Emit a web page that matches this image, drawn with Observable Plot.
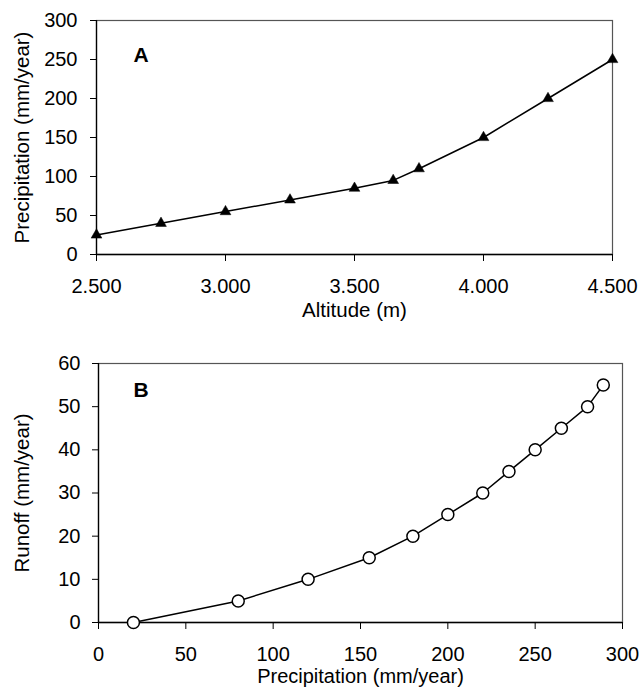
<!DOCTYPE html>
<html>
<head>
<meta charset="utf-8">
<script src="https://cdn.jsdelivr.net/npm/d3@7"></script>
<script src="https://cdn.jsdelivr.net/npm/@observablehq/plot@0.6"></script>
<style>
  html, body { margin: 0; padding: 0; background: white; }
  #chart svg { display: block; }
</style>
</head>
<body>
<div id="chart"></div>
<script>
// Panel A: precipitation vs altitude
const altitude = [2500, 2750, 3000, 3250, 3500, 3650, 3750, 4000, 4250, 4500];
const precipitationA = [25, 40, 55, 70, 85, 95, 110, 150, 200, 250];
const altitudeTicks = [2500, 3000, 3500, 4000, 4500];
const precipTicksA = [0, 50, 100, 150, 200, 250, 300];

// Panel B: runoff vs precipitation
const precipitationB = [20, 80, 120, 155, 180, 200, 220, 235, 250, 265, 280, 289];
const runoff = [0, 5, 10, 15, 20, 25, 30, 35, 40, 45, 50, 55];
const precipTicksB = [0, 50, 100, 150, 200, 250, 300];
const runoffTicks = [0, 10, 20, 30, 40, 50, 60];

const dataA = altitude.map((a, i) => ({altitude: a, precipitation: precipitationA[i]}));
const dataB = precipitationB.map((p, i) => ({precipitation: p, runoff: runoff[i]}));

const fmtDot = d3.formatLocale({decimal: ",", thousands: ".", grouping: [3], currency: ["", ""]}).format(",");

const font = "'Liberation Sans', Arial, Helvetica, sans-serif";

const plotA = Plot.plot({
  width: 640,
  height: 330,
  marginLeft: 96,
  marginRight: 28,
  marginTop: 20,
  marginBottom: 76,
  style: {fontFamily: font, fontSize: "20px", background: "white", color: "black"},
  x: {domain: [2500, 4500]},
  y: {domain: [0, 300]},
  marks: [
    Plot.frame({stroke: "#555", strokeWidth: 1.2}),
    Plot.axisX({ticks: altitudeTicks, tickFormat: fmtDot, tickSize: 7, tickPadding: 17, label: null, fontSize: 20}),
    Plot.axisY({ticks: precipTicksA, tickSize: 6, tickPadding: 13, label: null, fontSize: 20}),
    Plot.ruleX([2500], {stroke: "black", strokeWidth: 1.3}),
    Plot.ruleY([0], {stroke: "black", strokeWidth: 1.3}),
    Plot.text(["Altitude (m)"], {frameAnchor: "bottom", dy: 48, textAnchor: "middle", lineAnchor: "top", fontSize: 20.5, fill: "black"}),
    Plot.text(["Precipitation (mm/year)"], {frameAnchor: "left", dx: -82, rotate: -90, textAnchor: "middle", lineAnchor: "top", fontSize: 20.5, fill: "black"}),
    Plot.line(dataA, {x: "altitude", y: "precipitation", stroke: "black", strokeWidth: 1.5}),
    Plot.dot(dataA, {x: "altitude", y: "precipitation", symbol: "triangle", r: 4, fill: "black", stroke: "black", strokeWidth: 0.5}),
    Plot.text(["A"], {frameAnchor: "top-left", dx: 37, dy: 27, textAnchor: "start", lineAnchor: "top", fontSize: 21, fontWeight: "bold", fill: "black"})
  ]
});

const plotB = Plot.plot({
  width: 640,
  height: 359,
  marginLeft: 98,
  marginRight: 18,
  marginTop: 33,
  marginBottom: 67,
  style: {fontFamily: font, fontSize: "20px", background: "white", color: "black"},
  x: {domain: [0, 300]},
  y: {domain: [0, 60]},
  marks: [
    Plot.frame({stroke: "#555", strokeWidth: 1.2}),
    Plot.axisX({ticks: precipTicksB, tickSize: 7, tickPadding: 17, label: null, fontSize: 20}),
    Plot.axisY({ticks: runoffTicks, tickSize: 6, tickPadding: 12, label: null, fontSize: 20}),
    Plot.ruleX([0], {stroke: "black", strokeWidth: 1.3}),
    Plot.ruleY([0], {stroke: "black", strokeWidth: 1.3}),
    Plot.text(["Precipitation (mm/year)"], {frameAnchor: "bottom", dy: 46, textAnchor: "middle", lineAnchor: "top", fontSize: 20, fill: "black"}),
    Plot.text(["Runoff (mm/year)"], {frameAnchor: "left", dx: -84, rotate: -90, textAnchor: "middle", lineAnchor: "top", fontSize: 20.5, fill: "black"}),
    Plot.line(dataB, {x: "precipitation", y: "runoff", stroke: "black", strokeWidth: 1.5}),
    Plot.dot(dataB, {x: "precipitation", y: "runoff", r: 6, fill: "white", stroke: "black", strokeWidth: 1.5}),
    Plot.text(["B"], {frameAnchor: "top-left", dx: 35, dy: 19, textAnchor: "start", lineAnchor: "top", fontSize: 21, fontWeight: "bold", fill: "black"})
  ]
});

document.getElementById("chart").append(plotA, plotB);
</script>
</body>
</html>
